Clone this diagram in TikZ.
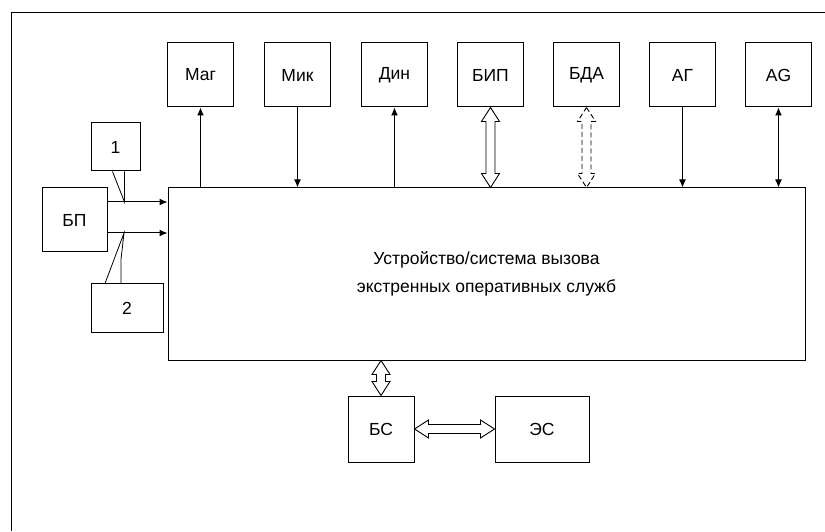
\documentclass[tikz,border=0pt]{standalone}
\usepackage{fontspec}
\setmainfont{Liberation Sans}
\usetikzlibrary{arrows.meta,positioning,calc}
\tikzset{
  ubox/.style={draw=black, line width=1pt, inner sep=0pt, minimum width=66pt, minimum height=64pt, font=\fontsize{17.5}{20}\selectfont},
  uarr/.style={line width=1pt, -{Latex[length=8pt,width=7pt]}},
  uarrs/.style={line width=1pt, {Latex[length=8pt,width=7pt]}-{Latex[length=8pt,width=7pt]}},
  hollow/.style={line width=0.9pt, fill=white, to path={
    (\tikztostart)
    -- ($(\tikztostart)!14pt!(\tikztotarget)!9pt!90:(\tikztotarget)$)
    -- ($(\tikztostart)!14pt!(\tikztotarget)!4.5pt!90:(\tikztotarget)$)
    -- ($(\tikztotarget)!14pt!(\tikztostart)!4.5pt!-90:(\tikztostart)$)
    -- ($(\tikztotarget)!14pt!(\tikztostart)!9pt!-90:(\tikztostart)$)
    -- (\tikztotarget)
    -- ($(\tikztotarget)!14pt!(\tikztostart)!9pt!90:(\tikztostart)$)
    -- ($(\tikztotarget)!14pt!(\tikztostart)!4.5pt!90:(\tikztostart)$)
    -- ($(\tikztostart)!14pt!(\tikztotarget)!4.5pt!-90:(\tikztotarget)$)
    -- ($(\tikztostart)!14pt!(\tikztotarget)!9pt!-90:(\tikztotarget)$)
    -- cycle}},
  thin/.style={line width=0.8pt}
}
\begin{document}
\begin{tikzpicture}[x=1pt,y=1pt]
\useasboundingbox (0,0) rectangle (825,531);
\draw[line width=1pt] (11,0) -- (11,518) -- (825,518);
% top row
\node[ubox] (mag) at (200.5,456) {Маг};
\node[ubox, right=30pt of mag] (mik) {Мик};
\node[ubox, right=30pt of mik] (din) {Дин};
\node[ubox, right=29pt of din] (bip) {БИП};
\node[ubox, right=29pt of bip] (bda) {БДА};
\node[ubox, right=29pt of bda] (ag) {АГ};
\node[ubox, right=29pt of ag] (agl) {AG};
% main device
\node[ubox, minimum width=637pt, minimum height=172pt, align=center, font=\fontsize{17.5}{28}\selectfont] (dev) at (486.5,257) {\raisebox{-4pt}{Устройство/система вызова}\\\raisebox{-4pt}{экстренных оперативных служб}};
% power
\node[ubox, minimum width=65pt] (bp) at (74.5,311) {БП};
\node[ubox, minimum width=49pt, minimum height=48pt] (c1) at (115.5,384) {1};
\node[ubox, minimum width=72pt, minimum height=48pt] (c2) at (127,223) {2};
% bottom
\node[ubox, minimum height=66pt] (bs) at (381,102) {БС};
\node[ubox, minimum width=94pt, minimum height=66pt, right=80pt of bs] (es) {ЭС};
% connectors, top row
\draw[uarr] (dev.north -| mag) -- (mag.south);
\draw[uarr] (mik.south) -- (dev.north -| mik);
\draw[uarr] (dev.north -| din) -- (din.south);
\draw[hollow] (bip.south) to (dev.north -| bip);
\draw[hollow, dash pattern=on 5pt off 3pt] (bda.south) to (dev.north -| bda);
\draw[uarr] (ag.south) -- (dev.north -| ag);
\draw[uarrs] (agl.south) -- (dev.north -| agl);
% power lines
\coordinate (p1) at ([yshift=18pt]bp.east);
\coordinate (p2) at ([yshift=-13pt]bp.east);
\draw[uarr] (p1) -- (p1 -| dev.west);
\draw[uarr] (p2) -- (p2 -| dev.west);
\coordinate (t1) at (124.5,329);
\coordinate (t2) at (124,298);
\draw[thin] ([xshift=-3pt]c1.south) -- (t1) -- ([xshift=9pt]c1.south);
\draw[thin] ([xshift=-22pt]c2.north) -- (t2) -- ([xshift=-6pt,yshift=24pt]c2.north) -- ([xshift=-6pt]c2.north);
% bottom links
\draw[hollow] (dev.south -| bs) to (bs.north);
\draw[hollow] (bs.east) to (es.west);
\end{tikzpicture}
\end{document}
